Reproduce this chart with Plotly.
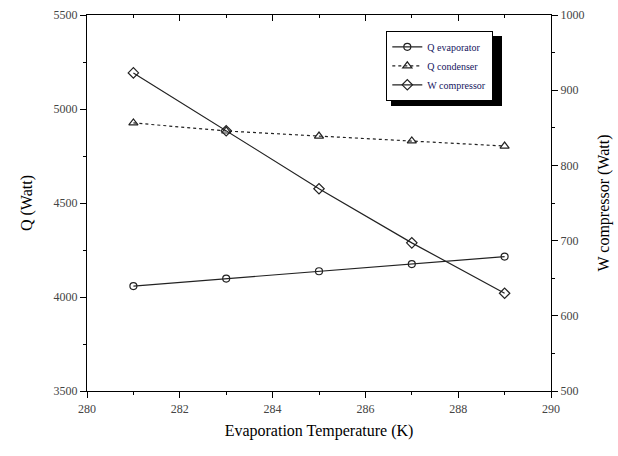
import plotly.graph_objects as go

temps = [281, 283, 285, 287, 289]
q_evap = [4058, 4098, 4137, 4175, 4215]
q_cond = [4926, 4883, 4856, 4830, 4803]
w_comp = [923, 846, 769, 697, 630]

FONT = "Liberation Serif"
INK = "#222222"
LEG = "#15155e"

fig = go.Figure()
fig.add_trace(go.Scatter(x=temps, y=q_evap, name="Q evaporator", mode="lines+markers",
                         line=dict(color=INK, width=1.2),
                         marker=dict(symbol="circle-open", size=7, color=INK, line=dict(width=1.2))))
fig.add_trace(go.Scatter(x=temps, y=q_cond, name="Q condenser", mode="lines+markers",
                         line=dict(color=INK, width=1.2, dash="dot"),
                         marker=dict(symbol="triangle-up-open", size=8, color=INK, line=dict(width=1.2))))
fig.add_trace(go.Scatter(x=temps, y=w_comp, name="W compressor", mode="lines+markers",
                         xaxis="x2", yaxis="y2",
                         line=dict(color=INK, width=1.2),
                         marker=dict(symbol="diamond-open", size=8, color=INK, line=dict(width=1.2))))

axis_common = dict(showgrid=False, zeroline=False, showline=True, linecolor="black", linewidth=1.3,
                   tickcolor="black", automargin=False,
                   tickfont=dict(family=FONT, size=12, color="#444444"))

fig.update_layout(
    width=618, height=456,
    margin=dict(l=87, r=67, t=15, b=65),
    plot_bgcolor="white", paper_bgcolor="white",
    font=dict(family=FONT, color="black"),
    xaxis=dict(range=[280, 290], tick0=280, dtick=2, ticks="outside", ticklen=6,
               minor=dict(dtick=1, ticks="outside", ticklen=3, tickcolor="black"),
               title=dict(text="Evaporation Temperature (K)", font=dict(family=FONT, size=16), standoff=10),
               **axis_common),
    xaxis2=dict(range=[280, 290], overlaying="x", side="top", anchor="y2", tick0=280, dtick=2,
                ticks="inside", ticklen=6, showticklabels=False,
                minor=dict(dtick=1, ticks="inside", ticklen=3, tickcolor="black"),
                showgrid=False, zeroline=False, showline=True, linecolor="black", linewidth=1.3,
                tickcolor="black", automargin=False),
    yaxis=dict(range=[3500, 5500], tick0=3500, dtick=500, ticks="outside", ticklen=6,
               minor=dict(dtick=250, ticks="outside", ticklen=3, tickcolor="black"),
               title=dict(text="Q (Watt)", font=dict(family=FONT, size=16), standoff=16),
               **axis_common),
    yaxis2=dict(range=[500, 1000], overlaying="y", side="right", anchor="x2", tick0=500, dtick=100,
                ticks="outside", ticklen=6,
                minor=dict(dtick=50, ticks="outside", ticklen=3, tickcolor="black"),
                title=dict(text="W compressor (Watt)", font=dict(family=FONT, size=16), standoff=14),
                **axis_common),
    legend=dict(x=(386 - 87) / 464, y=(391 - 31) / 376, xanchor="left", yanchor="top", bgcolor="white",
                bordercolor="black", borderwidth=1.3, font=dict(family=FONT, size=10, color=LEG),
                tracegroupgap=0, itemwidth=30),
    shapes=[dict(type="rect", xref="paper", yref="paper",
                 x0=(391 - 87) / 464, x1=(502 - 87) / 464, y0=(391 - 106) / 376, y1=(391 - 36) / 376,
                 fillcolor="black", line=dict(width=0), layer="above")],
)

fig.write_html("out.html")
